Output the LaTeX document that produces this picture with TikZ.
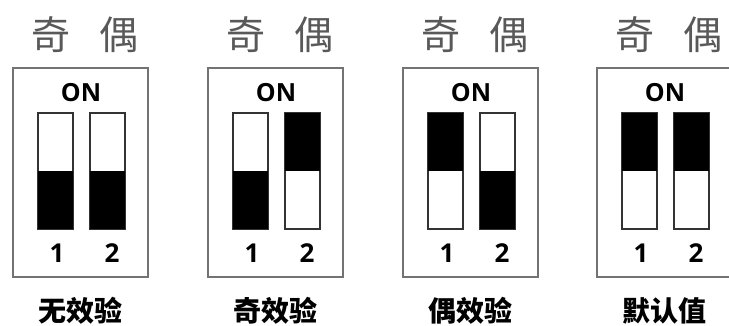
\documentclass[tikz,border=0pt]{standalone}
\usepackage{fontspec}
\setsansfont{Open Sans}
\newfontfamily\cjk{Noto Sans CJK SC}
\begin{document}
\begin{tikzpicture}[x=1pt, y=-1pt,
    panelbox/.style={draw=black!55, line width=1.3pt},
    slot/.style={draw=black!80, line width=1.2pt, fill=white},
    knob/.style={fill=black},
    heading/.style={font=\cjk\fontsize{39}{39}\selectfont, text=black!65, inner sep=0pt},
    ontext/.style={font=\sffamily\bfseries\fontsize{25}{25}\selectfont, inner sep=0pt},
    numtext/.style={font=\sffamily\bfseries\fontsize{26}{26}\selectfont, inner sep=0pt},
    modetext/.style={font=\cjk\bfseries\fontsize{28}{28}\selectfont, inner sep=0pt}]

    \useasboundingbox (0,0) rectangle (729,325);

    % one panel per mode: left edge / knob 1 down / knob 2 down / label
    \foreach \px/\ka/\kb/\mode [count=\i] in {13/1/1/无效验, 208/1/0/奇效验, 403/0/1/偶效验, 597/0/0/默认值} {
        \node[heading] (odd\i) at (\px+38,35) {奇};
        \node[heading] (even\i) at (\px+106,35) {偶};
        \draw[panelbox] (\px,68) rectangle ++(135,209);
        \node[ontext] (on\i) at (\px+68,93) {ON};
        % switches
        \draw[slot] (\px+25,113) rectangle ++(35,116);
        \fill[knob] (\px+25,113+58*\ka) rectangle ++(35,58);
        \draw[slot] (\px+77,113) rectangle ++(35,116);
        \fill[knob] (\px+77,113+58*\kb) rectangle ++(35,58);
        \node[numtext] (one\i) at (\px+44,253) {1};
        \node[numtext] (two\i) at (\px+99,253) {2};
        \node[modetext] (mode\i) at (\px+67,311) {\mode};
    }
\end{tikzpicture}
\end{document}
